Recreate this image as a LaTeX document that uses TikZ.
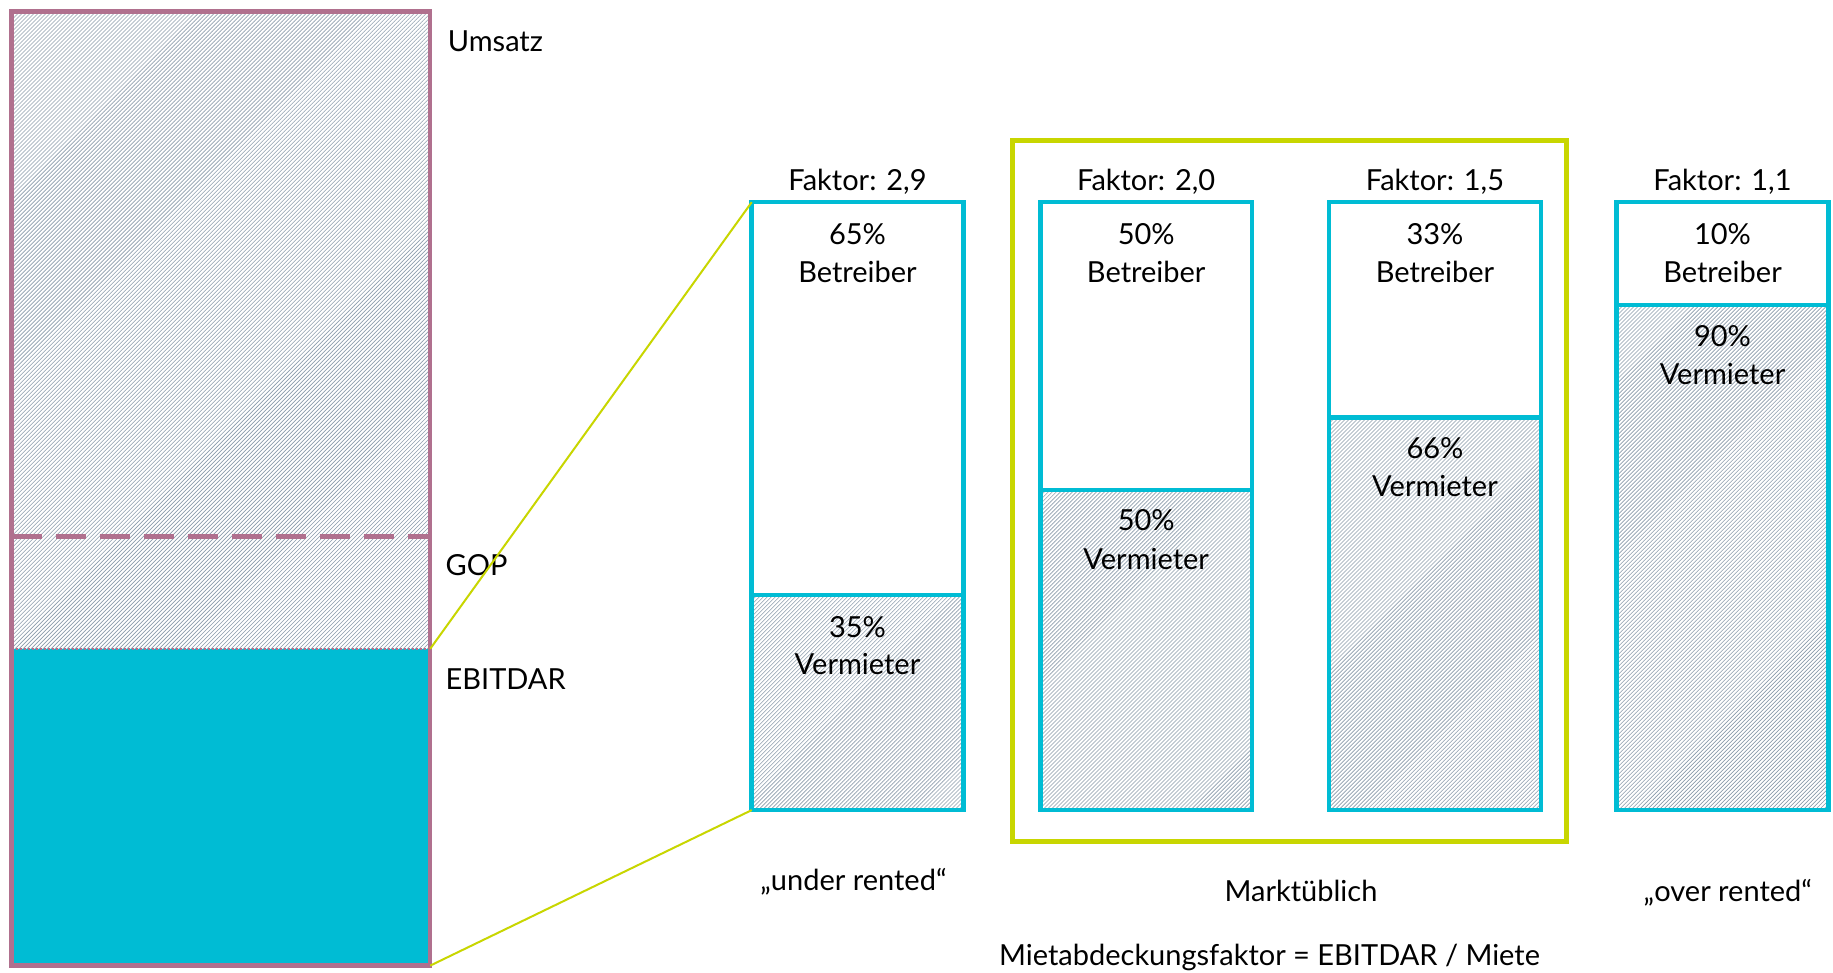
\documentclass[tikz,border=0pt]{standalone}
\usepackage{fontspec}
\setmainfont{Lato}
\usetikzlibrary{patterns.meta}
\definecolor{mauve}{RGB}{176,112,142}
\definecolor{aqua}{RGB}{0,188,212}
\definecolor{lime}{RGB}{200,214,0}
\definecolor{hatchgray}{RGB}{140,156,172}
\begin{document}
\begin{tikzpicture}[x=1pt,y=-1pt,
  hatch/.style={pattern={Lines[angle=45,distance=2.83pt,line width=0.6pt]},pattern color=hatchgray},
  blk/.style={rectangle,inner sep=0pt,outer sep=0pt,anchor=north west},
  barframe/.style={blk,draw=aqua,line width=4.5pt,minimum width=211.6pt,minimum height=607.9pt},
  vpart/.style={blk,hatch,minimum width=211.6pt},
  divider/.style={draw=aqua,line width=4.5pt},
  lbl/.style={font=\fontsize{29}{34}\selectfont,inner sep=0pt,anchor=base},
  lbll/.style={lbl,anchor=base west},
  link/.style={draw=lime,line width=2pt}]
\useasboundingbox (0,0) rectangle (1833,972);
\fill[white] (0,0) rectangle (1833,972);

% left revenue column
\node[blk,hatch,minimum width=418.5pt,minimum height=637.1pt] (umsatzpart) at (11.7,11.7) {};
\node[blk,fill=aqua,minimum width=418.5pt,minimum height=316.8pt] (ebit) at (11.7,648.8) {};
\coordinate (gopl) at (11.7,536.6);
\coordinate (gopr) at (430.2,536.6);
\draw[mauve,line width=4.5pt,dash pattern=on 30pt off 14pt] (gopl) -- (gopr);
\draw[mauve,line width=2.5pt,dash pattern=on 2pt off 2pt] (ebit.north west) -- (ebit.north east);
\node[blk,draw=mauve,line width=4.5pt,minimum width=418.5pt,minimum height=953.9pt] (rev) at (11.7,11.7) {};

\node[lbll] (tumsatz) at (447.7,51) {Umsatz};
\node[lbll] (tgop) at (445.4,575) {GOP};
\node[lbll] (tebit) at (445.4,689) {EBITDAR};

% market bracket
\node[blk,draw=lime,line width=4.5pt,minimum width=554.1pt,minimum height=701.4pt] (mkt) at (1012.4,140.3) {};

% hatched lower parts
\node[vpart,minimum height=215.1pt] (v1) at (751.7,595) {};
\node[vpart,minimum height=320.3pt] (v2) at (1040.4,489.8) {};
\node[vpart,minimum height=392.8pt] (v3) at (1329.2,417.3) {};
\node[vpart,minimum height=505pt] (v4) at (1616.7,305.1) {};

% bar frames
\node[barframe] (b1) at (751.7,202.2) {};
\node[barframe] (b2) at (1040.4,202.2) {};
\node[barframe] (b3) at (1329.2,202.2) {};
\node[barframe] (b4) at (1616.7,202.2) {};
\draw[divider] (v1.north west) -- (v1.north east);
\draw[divider] (v2.north west) -- (v2.north east);
\draw[divider] (v3.north west) -- (v3.north east);
\draw[divider] (v4.north west) -- (v4.north east);

% zoom connectors
\draw[link] (ebit.north east) -- (b1.north west);
\draw[link] (ebit.south east) -- (b1.south west);

% factor labels
\node[lbl] (f1) at (857.5,190) {Faktor: 2,9};
\node[lbl] (f2) at (1146.2,190) {Faktor: 2,0};
\node[lbl] (f3) at (1435,190) {Faktor: 1,5};
\node[lbl] (f4) at (1722.5,190) {Faktor: 1,1};

% operator shares
\node[lbl] (p1) at (857.5,244) {65\%};
\node[lbl] (o1) at (857.5,282) {Betreiber};
\node[lbl] (p2) at (1146.2,244) {50\%};
\node[lbl] (o2) at (1146.2,282) {Betreiber};
\node[lbl] (p3) at (1435,244) {33\%};
\node[lbl] (o3) at (1435,282) {Betreiber};
\node[lbl] (p4) at (1722.5,244) {10\%};
\node[lbl] (o4) at (1722.5,282) {Betreiber};

% landlord shares
\node[lbl] (q1) at (857.5,637) {35\%};
\node[lbl] (l1) at (857.5,674) {Vermieter};
\node[lbl] (q2) at (1146.2,530) {50\%};
\node[lbl] (l2) at (1146.2,569) {Vermieter};
\node[lbl] (q3) at (1435,458) {66\%};
\node[lbl] (l3) at (1435,496) {Vermieter};
\node[lbl] (q4) at (1722.5,346) {90\%};
\node[lbl] (l4) at (1722.5,384) {Vermieter};

% bottom captions
\node[lbl] (cu) at (853.4,890) {„under rented“};
\node[lbl] (cm) at (1301,901) {Marktüblich};
\node[lbl] (co) at (1727.8,901) {„over rented“};
\node[lbl] (cf) at (1269.5,965) {Mietabdeckungsfaktor = EBITDAR / Miete};
\end{tikzpicture}
\end{document}
